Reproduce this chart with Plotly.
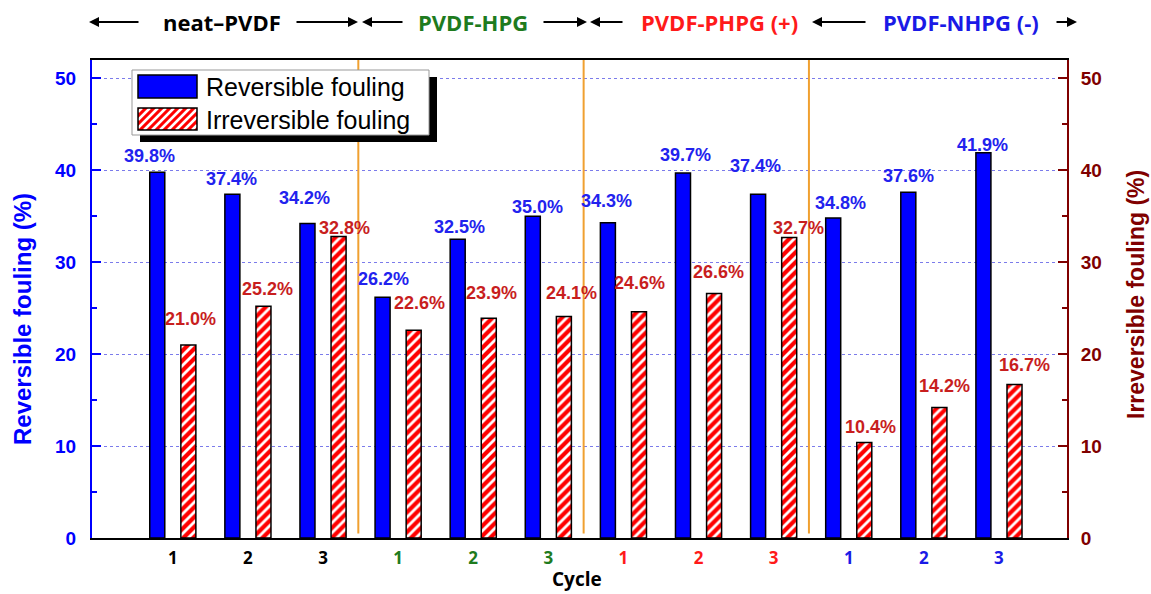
import plotly.graph_objects as go

# ---------------- data ----------------
cycle_labels = ["1", "2", "3", "1", "2", "3", "1", "2", "3", "1", "2", "3"]
group_names = ["neat–PVDF", "PVDF-HPG", "PVDF-PHPG (+)", "PVDF-NHPG (-)"]
group_colors = ["#000000", "#1E7B1E", "#FF1A1A", "#1A1AE6"]
reversible = [39.8, 37.4, 34.2, 26.2, 32.5, 35.0, 34.3, 39.7, 37.4, 34.8, 37.6, 41.9]
irreversible = [21.0, 25.2, 32.8, 22.6, 23.9, 24.1, 24.6, 26.6, 32.7, 10.4, 14.2, 16.7]

# label nudges (pixels) relative to bar tops
rev_dx = [-8, -1, -3, 1, 2, 5, -1, 3, -3, 7, 0, -1]
rev_dy = [16, 15, 26, 18, 12, 9, 22, 18, 28, 15, 16, 8]
irr_dx = [2, 4, 6, 6, 3, 8, 1, 4, 9, 6, 5, 10]
irr_dy = [26, 17, 8, 27, 25, 23, 29, 21, 9, 15, 21, 19]

# ---------------- layout geometry ----------------
W, H = 1151, 594
L, R, T, B = 92, 84, 60, 56
PX0, PX1, PY0, PY1 = L, W - R, T, H - B


def px(x):
    return (x - PX0) / (PX1 - PX0)


def py(y):
    return (PY1 - y) / (PY1 - PY0)


idx = list(range(len(reversible)))
bar_w = 0.2
half = 0.207
BLUE = "#0000FF"
RED_LBL = "#C81E1E"
DARKRED = "#800000"
FONT = "Liberation Sans"

fig = go.Figure()
fig.add_trace(go.Bar(
    x=idx, y=reversible, name="Reversible fouling",
    width=bar_w, offset=-half - bar_w / 2,
    marker=dict(color=BLUE, line=dict(color="black", width=1.5)),
    showlegend=False, yaxis="y"))
fig.add_trace(go.Bar(
    x=idx, y=irreversible, name="Irreversible fouling",
    width=bar_w, offset=half - bar_w / 2,
    marker=dict(color="red", line=dict(color="black", width=1.5),
                pattern=dict(shape="/", fgcolor="white", bgcolor="red",
                             size=7, solidity=0.4, fillmode="replace")),
    showlegend=False, yaxis="y2"))

ann = []
for i in idx:
    ann.append(dict(x=i - half, y=reversible[i], xref="x", yref="y",
                    text=f"{reversible[i]:.1f}%", showarrow=False,
                    xshift=rev_dx[i], yshift=rev_dy[i], xanchor="center", yanchor="middle",
                    font=dict(family=FONT, size=18, color="#2222EE", weight="bold")))
    ann.append(dict(x=i + half, y=irreversible[i], xref="x", yref="y2",
                    text=f"{irreversible[i]:.1f}%", showarrow=False,
                    xshift=irr_dx[i], yshift=irr_dy[i], xanchor="center", yanchor="middle",
                    font=dict(family=FONT, size=18, color=RED_LBL, weight="bold")))

# group labels on top
group_cx = [222, 473, 719, 961]
TOP_Y = 22
for name, col, cx in zip(group_names, group_colors, group_cx):
    ann.append(dict(x=px(cx), y=py(TOP_Y), xref="paper", yref="paper",
                    text=name, showarrow=False, xanchor="center", yanchor="middle",
                    font=dict(family="Open Sans", size=22, color=col, weight="bold")))
# arrows (head, tail) in pixels
arrows = [(89, 140), (358, 295), (362, 404), (587, 542), (590, 624), (812, 867), (1077, 1055)]
for head, tail in arrows:
    ann.append(dict(x=px(head), y=py(TOP_Y), xref="paper", yref="paper",
                    ax=tail - head, ay=0, axref="pixel", ayref="pixel",
                    showarrow=True, arrowhead=2, arrowsize=1, arrowwidth=2,
                    arrowcolor="black", text=""))

# axis titles
ann.append(dict(x=px(22), y=py(319), xref="paper", yref="paper", textangle=-90,
                xanchor="center", yanchor="middle",
                text="Reversible fouling (%)", showarrow=False,
                font=dict(family=FONT, size=24, color=BLUE, weight="bold")))
ann.append(dict(x=px(1136), y=py(295), xref="paper", yref="paper", textangle=-90,
                xanchor="center", yanchor="middle",
                text="Irreversible fouling (%)", showarrow=False,
                font=dict(family=FONT, size=23, color=DARKRED, weight="bold")))
ann.append(dict(x=px(577), y=py(579), xref="paper", yref="paper",
                xanchor="center", yanchor="middle",
                text="Cycle", showarrow=False,
                font=dict(family="Open Sans", size=19, color="black", weight="bold")))

# legend text
ann.append(dict(x=px(204), y=py(87), xref="paper", yref="paper", xanchor="left", yanchor="middle",
                text="Reversible fouling", showarrow=False,
                font=dict(family=FONT, size=25, color="black")))
ann.append(dict(x=px(204), y=py(120), xref="paper", yref="paper", xanchor="left", yanchor="middle",
                text="Irreversible fouling", showarrow=False,
                font=dict(family=FONT, size=25, color="black")))

shapes = []
# separators between membrane groups
for k in (1, 2, 3):
    xs = 3 * k - 0.5 - 0.03
    shapes.append(dict(type="line", xref="x", yref="y", x0=xs, x1=xs, y0=0.5, y1=52,
                       line=dict(color="#F0A030", width=2), layer="above"))


def prect(x0, y0, x1, y1, **kw):
    d = dict(type="rect", xref="paper", yref="paper",
             x0=px(x0), x1=px(x1), y0=py(y1), y1=py(y0), layer="above")
    d.update(kw)
    return d


# legend box with shadow
shapes.append(prect(140, 77, 437, 142, fillcolor="black", line=dict(width=0)))
shapes.append(prect(132, 70, 429, 135, fillcolor="white", line=dict(color="#999999", width=1)))
shapes.append(prect(138, 75, 197, 98, fillcolor=BLUE, line=dict(color="black", width=1.5)))
# hatched swatch
sx0, sy0, sx1, sy1 = 138, 108, 197, 130
shapes.append(prect(sx0, sy0, sx1, sy1, fillcolor="red", line=dict(width=0)))
c = sx0 + sy0 + 4
while c < sx1 + sy1:
    xa = max(sx0, c - sy1)
    xb = min(sx1, c - sy0)
    if xb > xa:
        shapes.append(dict(type="line", xref="paper", yref="paper",
                           x0=px(xa), y0=py(c - xa), x1=px(xb), y1=py(c - xb),
                           line=dict(color="white", width=2.5), layer="above"))
    c += 8
shapes.append(prect(sx0, sy0, sx1, sy1, fillcolor="rgba(0,0,0,0)", line=dict(color="black", width=1.5)))

ticktext = []
for i, lab in enumerate(cycle_labels):
    ticktext.append(f"<span style='color:{group_colors[i // 3]}'>{lab}</span>")

fig.update_layout(
    width=W, height=H,
    margin=dict(l=L, r=R, t=T, b=B, autoexpand=False),
    paper_bgcolor="white", plot_bgcolor="white",
    barmode="overlay", showlegend=False,
    annotations=ann, shapes=shapes,
    xaxis=dict(range=[-1.076, 11.906], tickmode="array", tickvals=idx, ticktext=ticktext,
               showline=True, linecolor="black", linewidth=2, mirror=True,
               ticks="", showgrid=False, zeroline=False, ticklabelstandoff=4,
               tickfont=dict(family="Open Sans", size=17, weight="bold")),
    yaxis=dict(range=[0, 52], tickmode="array", tickvals=[0, 10, 20, 30, 40, 50],
               showline=True, linecolor=BLUE, linewidth=2,
               ticks="inside", ticklen=9, tickwidth=2, tickcolor=BLUE,
               minor=dict(ticks="inside", ticklen=5, tickwidth=2, tickcolor=BLUE, dtick=5, tick0=0,
                          showgrid=False),
               showgrid=True, griddash="dot", gridcolor="rgba(90,90,230,0.8)", gridwidth=1,
               zeroline=False, ticklabelstandoff=10,
               tickfont=dict(family=FONT, size=19, color=BLUE, weight="bold")),
    yaxis2=dict(range=[0, 52], overlaying="y", side="right", tickmode="array",
                tickvals=[0, 10, 20, 30, 40, 50],
                showline=True, linecolor=DARKRED, linewidth=2,
                ticks="inside", ticklen=9, tickwidth=2, tickcolor=DARKRED,
                minor=dict(ticks="inside", ticklen=5, tickwidth=2, tickcolor=DARKRED, dtick=5, tick0=0,
                           showgrid=False),
                showgrid=False, zeroline=False, ticklabelstandoff=8,
                tickfont=dict(family=FONT, size=19, color=DARKRED, weight="bold")),
)

fig.write_html("out.html", config={"displayModeBar": False},
               post_script="document.body.style.margin='0px';")
